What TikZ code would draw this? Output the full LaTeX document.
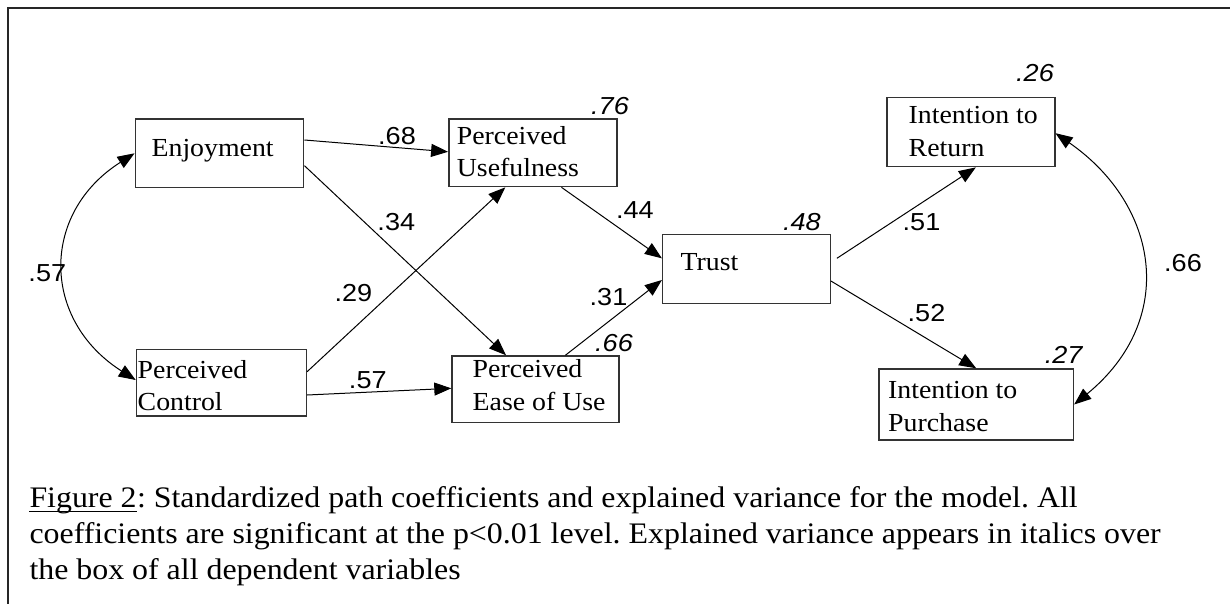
\documentclass[tikz,border=0pt]{standalone}
\usepackage{fontspec}
\setmainfont[FakeStretch=1.07]{Liberation Serif}
\newfontfamily\lbfamily[FakeStretch=1.1]{Liberation Sans}
\usetikzlibrary{arrows.meta,calc}
\frenchspacing
\newcommand{\bxfont}{\fontsize{26}{31}\selectfont}
\newcommand{\lbfont}{\lbfamily\fontsize{24.6}{29}\selectfont}
\newcommand{\cpfont}{\fontsize{29.8}{36}\selectfont}
\tikzset{
  box/.style={draw=black!80, line width=1.4pt, inner sep=0pt},
  btext/.style={font=\bxfont, anchor=base west, inner sep=0pt},
  coef/.style={font=\lbfont, inner sep=0pt},
  rsq/.style={font=\lbfont\itshape, inner sep=0pt},
  arr/.style={line width=1pt, -{Triangle[length=17pt,width=13pt]}},
  darr/.style={line width=1pt, {Triangle[length=17pt,width=13pt]}-{Triangle[length=17pt,width=13pt]}},
  ctext/.style={font=\cpfont, anchor=base west, inner sep=0pt},
}
\begin{document}
\begin{tikzpicture}[x=1pt,y=-1pt]
\useasboundingbox (0,0) rectangle (1230,604);
\fill[white] (0,0) rectangle (1230,604);
\draw[line width=2.2pt, black!85] (8.3,604) -- (8.3,8.3) -- (1230,8.3);

% boxes
\node[box, minimum width=168.5pt, minimum height=68.7pt] (enj) at (219.5,153.3) {};
\node[box, minimum width=168pt, minimum height=67.7pt] (pu) at (532.8,152.8) {};
\node[box, minimum width=170pt, minimum height=66.7pt] (pc) at (221.4,382.7) {};
\node[box, minimum width=166.8pt, minimum height=66.7pt] (peou) at (535.4,389.3) {};
\node[box, minimum width=167.6pt, minimum height=69pt] (trust) at (746.4,268.8) {};
\node[box, minimum width=168pt, minimum height=69pt] (itr) at (970.8,132.2) {};
\node[box, minimum width=194.5pt, minimum height=71pt] (itp) at (976.2,404.5) {};

% box texts
\node[btext] (enjT) at (151.4,156.7) {Enjoyment};
\node[btext] (puT1) at (456.7,144.3) {Perceived};
\node[btext] (puT2) at (456.7,176.7) {Usefulness};
\node[btext] (pcT1) at (137.5,378.3) {Perceived};
\node[btext] (pcT2) at (137.5,410.7) {Control};
\node[btext] (peouT1) at (472.5,377.7) {Perceived};
\node[btext] (peouT2) at (472.5,410) {Ease of Use};
\node[btext] (trustT) at (680.4,270.7) {Trust};
\node[btext] (itrT1) at (908.5,123.3) {Intention to};
\node[btext] (itrT2) at (908.5,156.7) {Return};
\node[btext] (itpT1) at (888,398.3) {Intention to};
\node[btext] (itpT2) at (888,431.7) {Purchase};

% connectors
\draw[arr] ([yshift=13.3pt]enj.east) -- ([yshift=1pt]pu.west);
\draw[arr] ([yshift=-12.4pt]enj.east) -- ([xshift=-29.4pt]peou.north);
\draw[arr] ([yshift=11pt]pc.east) -- ([xshift=-27.5pt]pu.south);
\draw[arr] ([yshift=-12.3pt]pc.east) -- ([yshift=1pt]peou.west);
\draw[arr] ([xshift=28.7pt]pu.south) -- ([yshift=10.5pt]trust.west);
\draw[arr] ([xshift=30pt]peou.north) -- ([yshift=-11.2pt]trust.west);
\draw[arr] ([xshift=6pt,yshift=10.5pt]trust.east) -- ([xshift=5pt]itr.south);
\draw[arr] ([yshift=-12.2pt]trust.east) -- (itp.north);
\draw[darr] (enj.west) .. controls +(-94.4,60) and +(-94.4,-60) .. ([yshift=2.7pt]pc.west);
\draw[darr] ([yshift=-1pt]itr.east) .. controls +(103.6,72) and +(103.6,-85) .. (itp.east);

% explained variance
\node[rsq] (r76) at (610,105.8) {.76};
\node[rsq] (r48) at (801.8,221.7) {.48};
\node[rsq] (r66) at (614,343.3) {.66};
\node[rsq] (r26) at (1035,73.3) {.26};
\node[rsq] (r27) at (1063.7,355) {.27};
% path coefficients
\node[coef] (c68) at (397,135.8) {.68};
\node[coef] (c34) at (396.3,222.3) {.34};
\node[coef] (c57a) at (47.3,273.3) {.57};
\node[coef] (c29) at (353.4,293.3) {.29};
\node[coef] (c31) at (608.5,296.7) {.31};
\node[coef] (c57b) at (367.8,380) {.57};
\node[coef] (c44) at (634.8,210) {.44};
\node[coef] (c51) at (921.5,221.7) {.51};
\node[coef] (c52) at (926.5,313.3) {.52};
\node[coef] (c66) at (1183,263.3) {.66};

% caption
\node[ctext] (fig) at (29.3,507.3) {Figure 2};
\draw[line width=1.5pt] ([yshift=-4.4pt]fig.base west) -- ([yshift=-4.4pt]fig.base east);
\node[ctext] (cap1) at (fig.base east) {: Standardized path coefficients and explained variance for the model. All};
\node[ctext] (cap2) at (29.3,543.3) {coefficients are significant at the p<0.01 level. Explained variance appears in italics over};
\node[ctext] (cap3) at (29.3,579.3) {the box of all dependent variables};
\end{tikzpicture}
\end{document}
